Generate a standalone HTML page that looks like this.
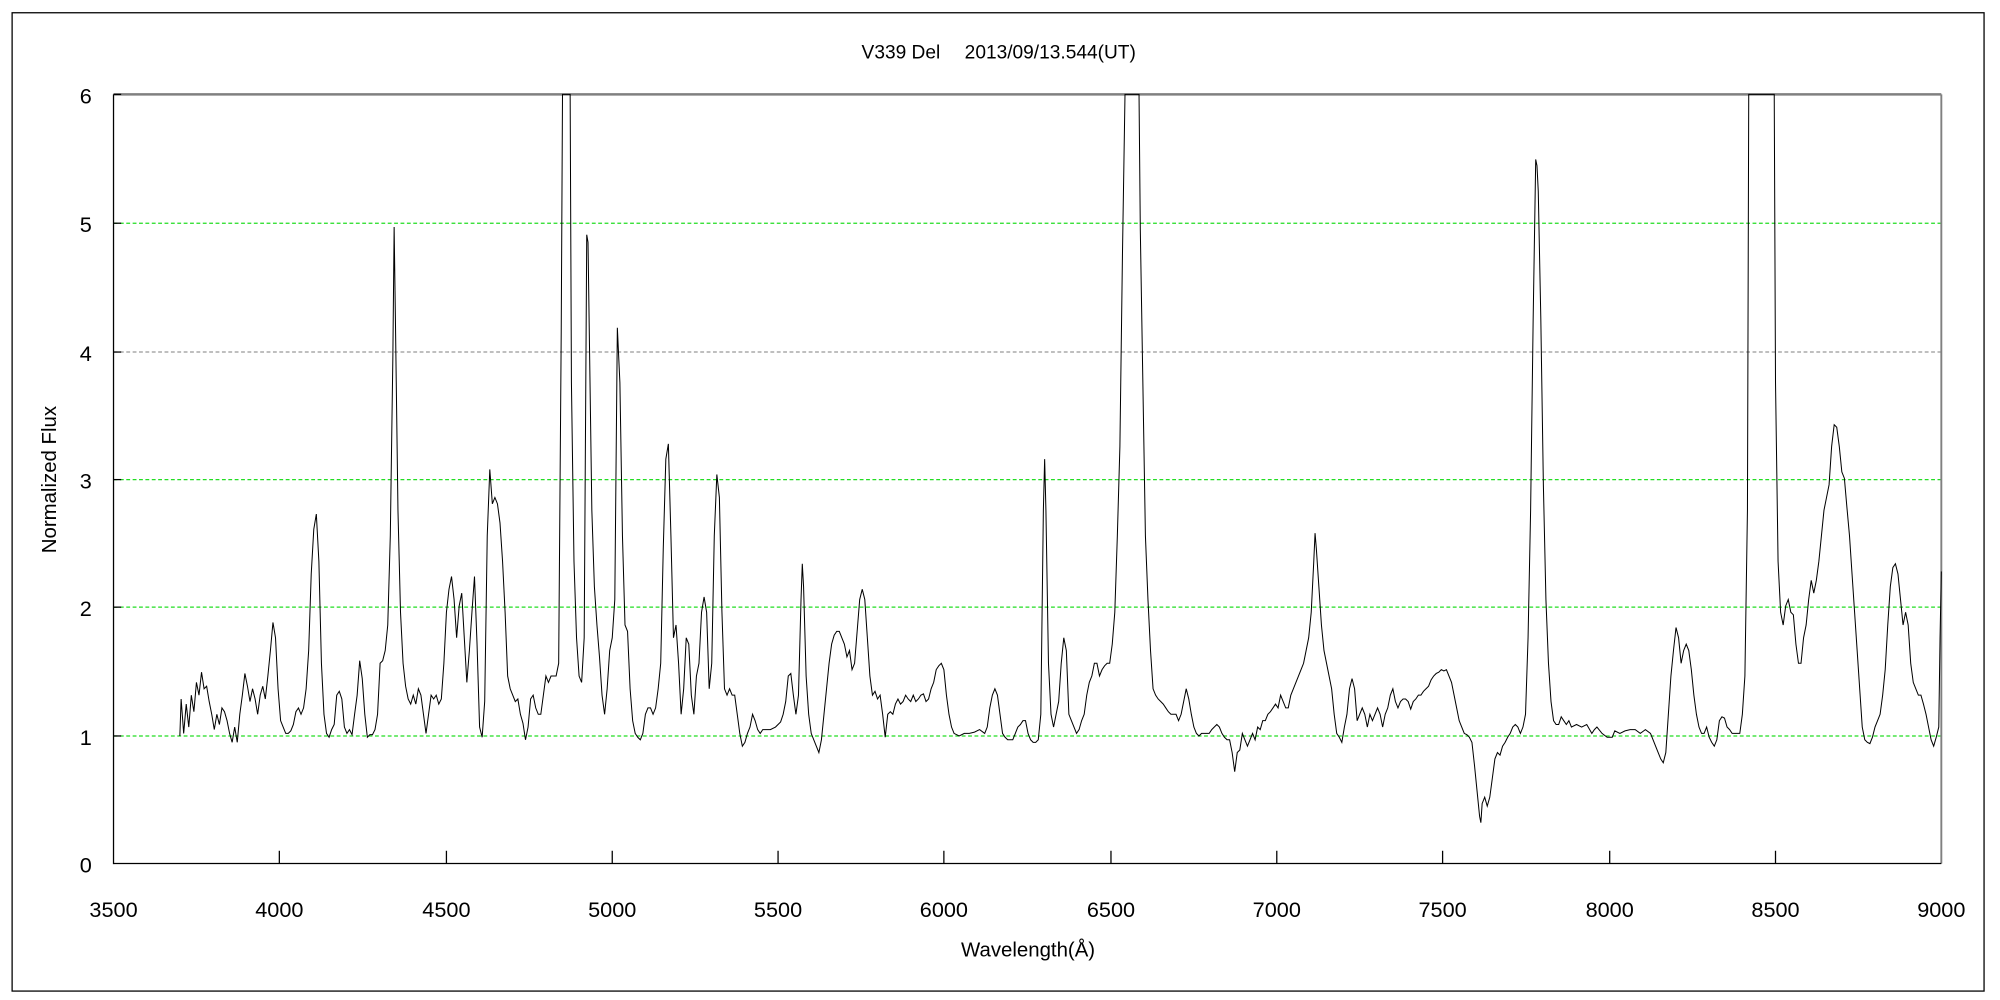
<!DOCTYPE html>
<html><head><meta charset="utf-8"><style>html,body{margin:0;padding:0;background:#fff}svg{display:block}</style></head>
<body>
<svg width="2000" height="1000" viewBox="0 0 1568 784" preserveAspectRatio="none" xmlns="http://www.w3.org/2000/svg" font-family="Liberation Sans, sans-serif">
<rect x="0" y="0" width="1568" height="784" fill="#fff"/>
<rect x="9.5" y="10" width="1546" height="767" fill="none" stroke="#000" stroke-width="1"/>
<text x="783" y="46" font-size="15" text-anchor="middle">V339 Del　 2013/09/13.544(UT)</text>
<g stroke-dasharray="3,2" stroke-width="1">
<line x1="89" y1="175" x2="1522" y2="175" stroke="#22dd22"/>
<line x1="89" y1="276" x2="1522" y2="276" stroke="#999"/>
<line x1="89" y1="376" x2="1522" y2="376" stroke="#22dd22"/>
<line x1="89" y1="476" x2="1522" y2="476" stroke="#22dd22"/>
<line x1="89" y1="577" x2="1522" y2="577" stroke="#22dd22"/>
</g>
<line x1="89" y1="74" x2="1522" y2="74" stroke="#808080" stroke-width="2"/>
<line x1="1522" y1="74" x2="1522" y2="677" stroke="#808080" stroke-width="1.5"/>
<line x1="89" y1="74" x2="89" y2="677.5" stroke="#000" stroke-width="1"/>
<line x1="89" y1="677" x2="1522" y2="677" stroke="#000" stroke-width="1"/>
<g stroke="#000" stroke-width="1">
<line x1="219" y1="677" x2="219" y2="667"/><line x1="350" y1="677" x2="350" y2="667"/><line x1="480" y1="677" x2="480" y2="667"/><line x1="610" y1="677" x2="610" y2="667"/><line x1="740" y1="677" x2="740" y2="667"/><line x1="871" y1="677" x2="871" y2="667"/><line x1="1001" y1="677" x2="1001" y2="667"/><line x1="1131" y1="677" x2="1131" y2="667"/><line x1="1262" y1="677" x2="1262" y2="667"/><line x1="1392" y1="677" x2="1392" y2="667"/>
<line x1="89" y1="74" x2="95" y2="74"/><line x1="89" y1="175" x2="95" y2="175"/><line x1="89" y1="276" x2="95" y2="276"/><line x1="89" y1="376" x2="95" y2="376"/><line x1="89" y1="476" x2="95" y2="476"/><line x1="89" y1="577" x2="95" y2="577"/>
</g>
<g font-size="17" text-anchor="end">
<text x="72" y="81">6</text><text x="72" y="182">5</text><text x="72" y="283">4</text><text x="72" y="383">3</text><text x="72" y="483">2</text><text x="72" y="584">1</text><text x="72" y="684">0</text>
</g>
<g font-size="17" text-anchor="middle">
<text x="89" y="719">3500</text><text x="219" y="719">4000</text><text x="350" y="719">4500</text><text x="480" y="719">5000</text><text x="610" y="719">5500</text><text x="740" y="719">6000</text><text x="871" y="719">6500</text><text x="1001" y="719">7000</text><text x="1131" y="719">7500</text><text x="1262" y="719">8000</text><text x="1392" y="719">8500</text><text x="1522" y="719">9000</text>
</g>
<text x="806" y="750" font-size="16" text-anchor="middle" font-family="Liberation Sans, Noto Sans CJK JP, sans-serif">Wavelength(Å)</text>
<text transform="translate(44,376) rotate(-90)" font-size="16" text-anchor="middle">Normalized Flux</text>
<polyline fill="none" stroke="#000" stroke-width="0.8" points="141,577 142,548 144,575 146,552 148,570 150,545 152,558 154,535 156,545 158,527 160,540 162,538 164,550 166,560 168,572 170,560 172,568 174,555 176,558 178,565 180,575 182,582 184,570 186,582 188,560 190,545 192,528 194,538 196,550 198,540 200,548 202,560 204,545 206,538 208,548 210,530 212,510 214,488 216,500 218,540 220,565 222,570 224,575 226,575 228,573 230,568 232,558 234,555 236,560 238,555 240,540 242,510 244,450 246,415 248,403 250,440 252,520 254,560 256,575 258,578 260,572 262,568 264,545 266,542 268,548 270,570 272,575 274,572 276,576 278,560 280,545 282,518 284,532 286,560 288,578 290,576 292,576 294,572 296,560 298,520 300,518 302,510 304,490 306,420 308,280 309,178 310,250 312,400 314,480 316,520 318,538 320,548 322,552 324,545 326,552 328,540 330,545 332,560 334,575 336,560 338,545 340,548 342,545 344,552 346,548 348,520 350,480 352,462 354,452 356,470 358,500 360,475 362,465 364,500 366,535 368,510 370,480 372,452 374,505 376,570 378,578 380,550 382,420 384,368 386,395 388,390 390,395 392,410 394,440 396,480 398,530 400,540 402,545 404,550 406,548 408,560 410,567 412,580 414,570 416,548 418,545 420,555 422,560 424,560 426,545 428,530 430,535 432,530 436,530 438,520 440,260 441,74 447,74 448,300 450,440 452,500 454,530 456,535 458,500 460,184 461,190 462,260 464,400 466,460 468,490 470,515 472,545 474,560 476,540 478,510 480,500 482,470 484,257 486,300 488,420 490,490 492,495 494,540 496,565 498,575 500,578 502,580 504,575 506,560 508,555 510,555 512,560 514,555 516,540 518,520 520,430 522,360 524,348 526,420 528,500 530,490 532,520 534,560 536,540 538,500 540,505 542,545 544,560 546,530 548,520 550,480 552,468 554,480 556,540 558,520 560,420 562,372 564,390 566,480 568,540 570,545 572,540 574,545 576,545 578,560 580,575 582,585 584,582 586,575 588,570 590,560 592,565 594,572 596,575 598,572 600,572 604,572 608,570 612,566 614,560 616,550 618,530 620,528 622,545 624,560 626,545 628,470 629,442 630,460 632,530 634,560 636,575 638,580 640,585 642,590 644,580 646,560 648,540 650,520 652,505 654,498 656,495 658,495 660,500 662,505 664,515 666,510 668,525 670,520 672,495 674,470 676,462 678,470 680,500 682,530 684,545 686,542 688,548 690,545 692,560 694,578 696,560 698,558 700,560 702,552 704,548 706,552 708,550 710,545 712,548 714,550 716,545 718,550 720,548 722,545 724,544 726,550 728,548 730,540 732,535 734,525 736,522 738,520 740,525 742,545 744,560 746,570 748,575 752,577 756,575 760,575 764,574 768,572 772,575 774,570 776,555 778,545 780,540 782,545 784,560 786,575 788,578 790,580 794,580 796,575 798,570 800,568 802,565 804,565 806,575 808,580 810,582 812,582 814,580 816,560 818,400 819,360 820,400 822,520 824,560 826,570 828,560 830,550 832,520 834,500 836,510 838,560 840,565 842,570 844,575 846,572 848,565 850,560 852,545 854,535 856,530 858,520 860,520 862,530 864,525 866,522 868,520 870,520 872,505 874,480 876,420 878,350 880,200 882,74 893,74 894,180 896,300 898,420 900,470 902,510 904,540 906,545 908,548 910,550 912,552 914,555 916,558 918,560 920,560 922,560 924,565 926,560 928,550 930,540 932,548 934,560 936,570 938,575 940,577 942,575 944,575 946,575 948,575 950,572 952,570 954,568 956,570 958,575 960,578 962,580 964,580 966,590 968,605 970,590 972,588 974,575 976,580 978,585 980,580 982,575 984,580 986,570 988,572 990,565 992,565 994,560 996,558 998,555 1000,552 1002,555 1004,545 1006,550 1008,555 1010,555 1012,545 1014,540 1016,535 1018,530 1020,525 1022,520 1024,510 1026,500 1028,480 1030,440 1031,418 1032,430 1034,460 1036,490 1038,510 1040,520 1042,530 1044,540 1046,560 1048,575 1050,578 1052,582 1054,570 1056,560 1058,540 1060,532 1062,540 1064,565 1066,560 1068,555 1070,560 1072,570 1074,560 1076,565 1078,560 1080,555 1082,560 1084,570 1086,560 1088,555 1090,545 1092,540 1094,550 1096,555 1098,550 1100,548 1102,548 1104,550 1106,556 1108,550 1110,548 1112,545 1114,545 1116,542 1118,540 1120,538 1122,533 1124,530 1126,528 1128,527 1130,525 1132,526 1134,525 1136,530 1138,535 1140,545 1142,555 1144,565 1146,570 1148,575 1150,576 1152,578 1154,582 1156,600 1158,620 1160,640 1161,645 1162,630 1164,625 1166,632 1168,625 1170,610 1172,595 1174,590 1176,592 1178,585 1180,582 1182,578 1184,575 1186,570 1188,568 1190,570 1192,575 1194,570 1196,560 1198,500 1200,400 1202,250 1204,125 1205,130 1206,150 1208,250 1210,380 1212,470 1214,520 1216,550 1218,565 1220,568 1222,568 1224,562 1226,565 1228,568 1230,565 1232,570 1236,568 1240,570 1244,568 1248,575 1250,572 1252,570 1256,575 1260,578 1264,578 1266,573 1270,575 1274,573 1278,572 1282,572 1286,575 1290,572 1294,575 1298,585 1300,590 1302,595 1304,598 1306,590 1308,560 1310,530 1312,510 1314,492 1316,500 1318,520 1320,510 1322,505 1324,510 1326,525 1328,545 1330,560 1332,570 1334,575 1336,575 1338,570 1340,578 1342,582 1344,585 1346,580 1348,565 1350,562 1352,563 1354,570 1356,572 1358,575 1360,575 1362,575 1364,575 1366,560 1368,530 1370,400 1371,74 1391,74 1392,300 1394,440 1396,480 1398,490 1400,475 1402,470 1404,480 1406,482 1408,505 1410,520 1412,520 1414,500 1416,490 1418,470 1420,455 1422,465 1424,455 1426,440 1428,420 1430,400 1432,390 1434,380 1436,350 1438,333 1440,335 1442,350 1444,370 1446,375 1448,398 1450,420 1452,450 1454,480 1456,510 1458,540 1460,570 1462,580 1464,582 1466,583 1468,578 1470,570 1472,565 1474,560 1476,545 1478,525 1480,490 1482,460 1484,445 1486,442 1488,450 1490,470 1492,490 1494,480 1496,490 1498,520 1500,535 1502,540 1504,545 1506,545 1508,552 1510,560 1512,570 1514,580 1516,585 1518,578 1520,570 1521,500 1522,448"/>
</svg>
</body></html>
